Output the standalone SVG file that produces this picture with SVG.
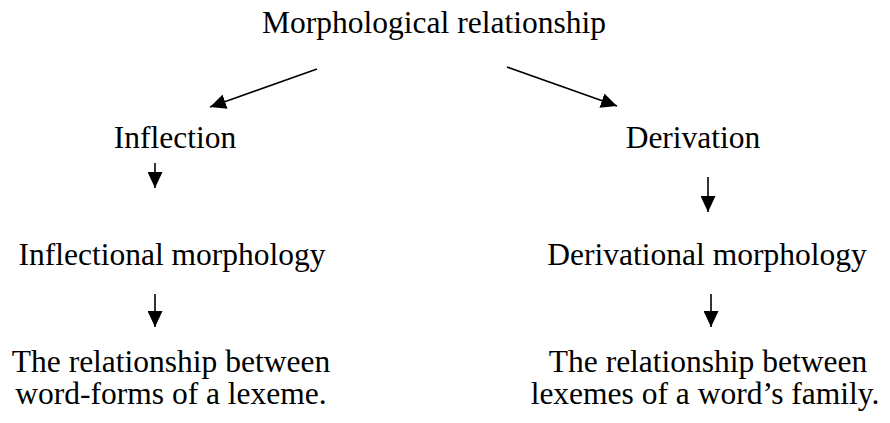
<svg xmlns="http://www.w3.org/2000/svg" width="890" height="423" viewBox="0 0 890 423">
<style>
.t{font-family:'Liberation Serif','Times New Roman',serif;font-size:31.5px;fill:#000;text-anchor:middle}
.c{stroke:#000;stroke-width:1.6;fill:none}
</style>
<defs>
<marker id="ah" viewBox="0 0 16 15" refX="16" refY="7.5" markerWidth="16" markerHeight="15" markerUnits="userSpaceOnUse" orient="auto">
<path d="M0,0 L16,7.5 L0,15 z" fill="#000"/>
</marker>
</defs>
<rect width="890" height="423" fill="#fff"/>
<g id="connectors">
<line class="c" x1="317" y1="69" x2="210" y2="107" marker-end="url(#ah)"/>
<line class="c" x1="507" y1="67" x2="617" y2="106" marker-end="url(#ah)"/>
<line class="c" x1="155" y1="163" x2="155" y2="188" marker-end="url(#ah)"/>
<line class="c" x1="708" y1="177" x2="708" y2="212" marker-end="url(#ah)"/>
<line class="c" x1="155" y1="294" x2="155" y2="327" marker-end="url(#ah)"/>
<line class="c" x1="711" y1="294" x2="711" y2="327" marker-end="url(#ah)"/>
</g>
<g class="t">
<g id="root"><text x="434" y="33">Morphological relationship</text></g>
<g id="inflection"><text x="175" y="148">Inflection</text></g>
<g id="derivation"><text x="693" y="148">Derivation</text></g>
<g id="inflectional-morphology"><text x="172" y="265">Inflectional morphology</text></g>
<g id="derivational-morphology"><text x="707" y="265">Derivational morphology</text></g>
<g id="inflection-def"><text x="171" y="372">The relationship between</text><text x="171" y="404">word-forms of a lexeme.</text></g>
<g id="derivation-def"><text x="708" y="372">The relationship between</text><text x="705" y="404">lexemes of a word’s family.</text></g>
</g>
</svg>
